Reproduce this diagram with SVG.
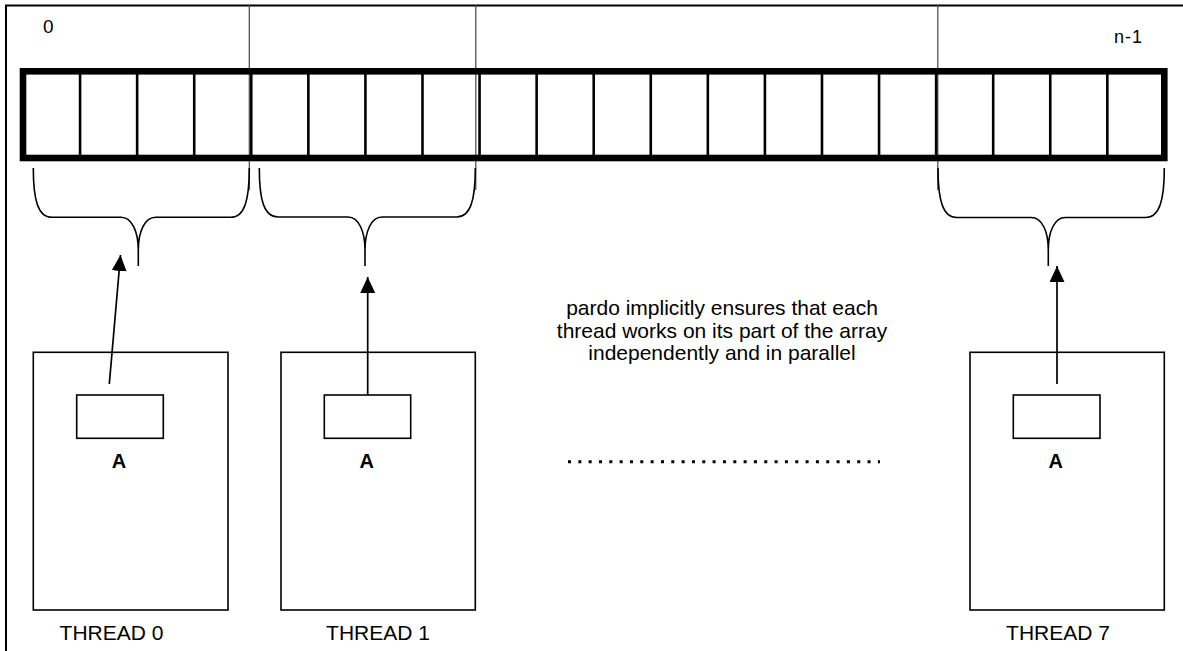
<svg xmlns="http://www.w3.org/2000/svg" width="1183" height="651" viewBox="0 0 1183 651">
<style>
text{font-family:"Liberation Sans",Arial,sans-serif;fill:#000}
.lbl{font-size:21px}
.a{font-size:20px;font-weight:bold;text-anchor:middle}
.th{font-size:21px;text-anchor:middle}
.box{fill:#fff;stroke:#000;stroke-width:1.6}
.brace{fill:none;stroke:#000;stroke-width:1.6}
.div{stroke:#000;stroke-width:2.6}
.guide{stroke:#444;stroke-width:1.2}
.arrow{stroke:#000;stroke-width:1.7;fill:none;marker-end:url(#ah)}
</style>
<defs>
<marker id="ah" markerUnits="userSpaceOnUse" markerWidth="16" markerHeight="15" refX="16" refY="7.5" orient="auto">
<path d="M0,0 L16,7.5 L0,15 z" fill="#000"/>
</marker>
</defs>
<rect width="1183" height="651" fill="#fff"/>
<g id="frame">
<path d="M6,651 L6,5.5 L1183,5.5" fill="none" stroke="#000" stroke-width="2"/>
</g>
<g id="guides">
<line class="guide" x1="249.3" y1="5" x2="249.3" y2="190"/>
<line class="guide" x1="475.8" y1="5" x2="475.8" y2="190"/>
<line class="guide" x1="937.8" y1="5" x2="937.8" y2="190"/>
</g>
<g id="labels-top">
<text class="lbl" x="43" y="33" style="font-size:19px">0</text>
<text class="lbl" x="1114" y="43" style="font-size:18px;letter-spacing:1px">n-1</text>
</g>
<g id="array">
<g>
<line class="div" x1="80.07" y1="71" x2="80.07" y2="158"/>
<line class="div" x1="137.14" y1="71" x2="137.14" y2="158"/>
<line class="div" x1="194.21" y1="71" x2="194.21" y2="158"/>
<line class="div" x1="251.28" y1="71" x2="251.28" y2="158"/>
<line class="div" x1="308.35" y1="71" x2="308.35" y2="158"/>
<line class="div" x1="365.42" y1="71" x2="365.42" y2="158"/>
<line class="div" x1="422.49" y1="71" x2="422.49" y2="158"/>
<line class="div" x1="479.56" y1="71" x2="479.56" y2="158"/>
<line class="div" x1="536.63" y1="71" x2="536.63" y2="158"/>
<line class="div" x1="593.7" y1="71" x2="593.7" y2="158"/>
<line class="div" x1="650.77" y1="71" x2="650.77" y2="158"/>
<line class="div" x1="707.84" y1="71" x2="707.84" y2="158"/>
<line class="div" x1="764.91" y1="71" x2="764.91" y2="158"/>
<line class="div" x1="821.98" y1="71" x2="821.98" y2="158"/>
<line class="div" x1="879.05" y1="71" x2="879.05" y2="158"/>
<line class="div" x1="936.12" y1="71" x2="936.12" y2="158"/>
<line class="div" x1="993.19" y1="71" x2="993.19" y2="158"/>
<line class="div" x1="1050.26" y1="71" x2="1050.26" y2="158"/>
<line class="div" x1="1107.33" y1="71" x2="1107.33" y2="158"/>
</g>
<rect x="23" y="71.3" width="1141.3" height="86.7" fill="none" stroke="#000" stroke-width="6.6"/>
</g>
<g id="braces">
<path class="brace" d="M33.3,168 C33.3,200 38,217.3 52,217.3 L121,217.3 C132,217.3 138.3,232 138.3,250 L138.3,266 M249.3,168 C249.3,200 244.6,217.3 230.6,217.3 L155.6,217.3 C144.6,217.3 138.3,232 138.3,250"/>
<path class="brace" d="M259.3,168 C259.3,200 264,217 278,217 L348,217 C359,217 365,232 365,250 L365,266 M475.3,168 C475.3,200 470.6,217 456.6,217 L382,217 C371,217 365,232 365,250"/>
<path class="brace" d="M938,168 C938,200 942.7,217.5 956.7,217.5 L1031.3,217.5 C1042.3,217.5 1048.3,232 1048.3,250 L1048.3,266 M1164.3,168 C1164.3,200 1159.6,217.5 1145.6,217.5 L1065.3,217.5 C1054.3,217.5 1048.3,232 1048.3,250"/>
</g>
<g id="thread0">
<rect class="box" x="33.3" y="352.3" width="194.7" height="257.7"/>
<rect class="box" x="76.7" y="395" width="86.6" height="43.3"/>
<text class="a" x="119" y="468">A</text>
<text class="th" x="111.5" y="640">THREAD 0</text>
</g>
<g id="thread1">
<rect class="box" x="281" y="352.3" width="194.3" height="257.7"/>
<rect class="box" x="324.3" y="395" width="86.4" height="43.3"/>
<text class="a" x="366.7" y="468">A</text>
<text class="th" x="378" y="640">THREAD 1</text>
</g>
<g id="thread7">
<rect class="box" x="970" y="352.3" width="194.3" height="257.7"/>
<rect class="box" x="1013.3" y="395" width="86.7" height="43.3"/>
<text class="a" x="1055.7" y="468">A</text>
<text class="th" x="1058" y="640">THREAD 7</text>
</g>
<g id="connectors">
<line class="arrow" x1="109.3" y1="384" x2="120.5" y2="255"/>
<line class="arrow" x1="367.7" y1="395" x2="367.7" y2="277"/>
<line class="arrow" x1="1057" y1="384" x2="1057" y2="266"/>
</g>
<g id="note">
<text class="lbl" text-anchor="middle" x="722" y="315">pardo implicitly ensures that each</text>
<text class="lbl" text-anchor="middle" x="722" y="337.5">thread works on its part of the array</text>
<text class="lbl" text-anchor="middle" x="722" y="360">independently and in parallel</text>
</g>
<g id="ellipsis">
<line x1="568" y1="461.7" x2="880" y2="461.7" stroke="#000" stroke-width="3" stroke-dasharray="3 7.33"/>
</g>
</svg>
